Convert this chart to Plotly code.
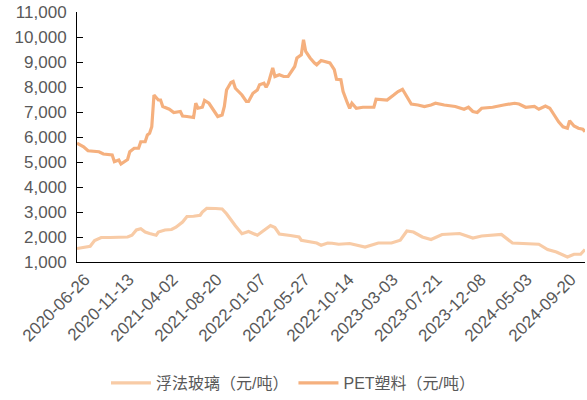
import plotly.graph_objects as go

# 浮法玻璃（元/吨） — weekly series
glass_dates = [
    "2020-06-26", "2020-07-17", "2020-08-07", "2020-08-21", "2020-09-11", "2020-10-09",
    "2020-11-06", "2020-12-04", "2020-12-18", "2021-01-01", "2021-01-15", "2021-01-29",
    "2021-02-12", "2021-03-05", "2021-03-12", "2021-04-02", "2021-04-23", "2021-05-07",
    "2021-05-28", "2021-06-11", "2021-07-02", "2021-07-23", "2021-07-30", "2021-08-13",
    "2021-09-10", "2021-10-01", "2021-10-15", "2021-10-29", "2021-11-12", "2021-12-03",
    "2021-12-17", "2021-12-24", "2022-01-21", "2022-02-04", "2022-02-18", "2022-03-04",
    "2022-03-18", "2022-04-01", "2022-05-06", "2022-06-03", "2022-06-10", "2022-07-29",
    "2022-08-12", "2022-09-02", "2022-09-16", "2022-10-07", "2022-11-11", "2022-12-30",
    "2023-02-10", "2023-03-24", "2023-04-21", "2023-05-12", "2023-06-02", "2023-06-30",
    "2023-07-28", "2023-09-01", "2023-10-27", "2023-12-08", "2024-01-05", "2024-03-08",
    "2024-04-12", "2024-05-31", "2024-07-05", "2024-08-02", "2024-08-30", "2024-10-04",
    "2024-10-25", "2024-11-15", "2024-11-29",
]
glass_values = [
    1540, 1580, 1630, 1860, 1980, 1980,
    1980, 2000, 2070, 2280, 2330, 2200,
    2140, 2070, 2200, 2280, 2300, 2390,
    2600, 2820, 2830, 2870, 3000, 3150,
    3140, 3120, 2930, 2670, 2450, 2130,
    2200, 2220, 2070, 2200, 2300, 2460,
    2380, 2120, 2060, 2000, 1870, 1760,
    1670, 1760, 1750, 1710, 1740, 1600,
    1760, 1760, 1870, 2240, 2200, 2000,
    1900, 2100, 2140, 1960, 2040, 2100,
    1760, 1740, 1710, 1500, 1400, 1200,
    1310, 1310, 1500,
]

# PET塑料（元/吨）
pet_dates = [
    "2020-06-26", "2020-07-17", "2020-07-31", "2020-09-04", "2020-09-18", "2020-10-16",
    "2020-10-23", "2020-11-06", "2020-11-13", "2020-12-04", "2020-12-11", "2020-12-25",
    "2021-01-08", "2021-01-15", "2021-01-29", "2021-02-05", "2021-02-12", "2021-02-19",
    "2021-02-26", "2021-03-12", "2021-03-19", "2021-03-26", "2021-04-16", "2021-04-30",
    "2021-05-21", "2021-05-28", "2021-06-11", "2021-07-02", "2021-07-09", "2021-07-16",
    "2021-07-30", "2021-08-06", "2021-08-20", "2021-09-03", "2021-09-17", "2021-10-01",
    "2021-10-08", "2021-10-15", "2021-10-29", "2021-11-05", "2021-11-12", "2021-12-03",
    "2021-12-17", "2021-12-24", "2022-01-07", "2022-01-21", "2022-01-28", "2022-02-11",
    "2022-02-18", "2022-02-25", "2022-03-11", "2022-03-18", "2022-04-01", "2022-04-15",
    "2022-04-29", "2022-05-20", "2022-05-27", "2022-06-10", "2022-06-17", "2022-06-24",
    "2022-07-08", "2022-07-22", "2022-07-29", "2022-08-12", "2022-09-02", "2022-09-09",
    "2022-09-23", "2022-09-30", "2022-10-14", "2022-10-21", "2022-11-04", "2022-11-11",
    "2022-11-18", "2022-12-02", "2022-12-23", "2023-01-27", "2023-02-03", "2023-02-24",
    "2023-03-10", "2023-03-31", "2023-04-14", "2023-04-28", "2023-05-05", "2023-05-19",
    "2023-05-26", "2023-06-16", "2023-07-07", "2023-07-28", "2023-08-11", "2023-09-08",
    "2023-10-13", "2023-11-10", "2023-11-24", "2023-12-08", "2023-12-22", "2024-01-05",
    "2024-02-09", "2024-03-15", "2024-04-19", "2024-05-03", "2024-05-24", "2024-06-21",
    "2024-07-05", "2024-07-26", "2024-08-09", "2024-08-23", "2024-09-06", "2024-09-20",
    "2024-10-04", "2024-10-11", "2024-10-25", "2024-11-08", "2024-11-22", "2024-11-29",
]
pet_values = [
    5750, 5610, 5450, 5410, 5320, 5280,
    5010, 5080, 4920, 5100, 5410, 5550,
    5550, 5810, 5810, 6080, 6150, 6410,
    7680, 7480, 7480, 7220, 7110, 6980,
    7020, 6840, 6820, 6780, 7350, 7150,
    7190, 7460, 7350, 7080, 6820, 6880,
    7220, 7880, 8180, 8220, 7950, 7680,
    7420, 7420, 7750, 7880, 8090, 8150,
    7990, 8150, 8760, 8420, 8490, 8420,
    8420, 8820, 9160, 9290, 9890, 9420,
    9160, 8960, 8890, 9060, 8980, 8960,
    8690, 8310, 8290, 7820, 7350, 7150,
    7350, 7150, 7190, 7190, 7510, 7480,
    7480, 7680, 7820, 7910, 7750, 7480,
    7320, 7280, 7220, 7280, 7350, 7280,
    7220, 7110, 7190, 7020, 6980, 7150,
    7190, 7280, 7350, 7320, 7190, 7220,
    7110, 7240, 7150, 6880, 6610, 6410,
    6350, 6650, 6440, 6350, 6310, 6210,
]

x_labels = [
    "2020-06-26", "2020-11-13", "2021-04-02", "2021-08-20", "2022-01-07", "2022-05-27",
    "2022-10-14", "2023-03-03", "2023-07-21", "2023-12-08", "2024-05-03", "2024-09-20",
]
x_ticks = x_labels[::2]
y_ticks = list(range(1000, 11001, 1000))

FONT = "Liberation Sans, Arial, Noto Sans CJK SC, sans-serif"
GRAY = "#595959"
x_range = [pet_dates[0], pet_dates[-1]]

fig = go.Figure()
fig.add_trace(go.Scatter(x=glass_dates, y=glass_values, mode="lines",
                         name="浮法玻璃（元/吨）",
                         line=dict(color="#F8CBA6", width=3.2)))
fig.add_trace(go.Scatter(x=pet_dates, y=pet_values, mode="lines",
                         name="PET塑料（元/吨）",
                         line=dict(color="#F5B07E", width=3.2)))

fig.update_layout(
    width=587, height=400,
    margin=dict(l=77, r=2, t=12, b=138),
    paper_bgcolor="white", plot_bgcolor="white",
    font=dict(family=FONT, size=16, color=GRAY),
    showlegend=True,
    legend=dict(orientation="h", xref="container", yref="container",
                x=0.5, xanchor="center", y=0.0425, yanchor="middle",
                font=dict(size=16, color=GRAY), itemwidth=40),
    xaxis=dict(
        type="date", range=x_range, automargin=False,
        tickmode="array", tickvals=x_labels, ticktext=x_labels,
        tickangle=-45, ticks="", showgrid=False, zeroline=False,
        showline=True, linecolor="black", linewidth=1,
        ticklabelshift=8,
        tickfont=dict(size=17, color=GRAY),
    ),
    xaxis2=dict(
        type="date", range=x_range, overlaying="x", anchor="y", side="bottom",
        automargin=False, tickmode="array", tickvals=x_ticks, showticklabels=False,
        ticks="inside", ticklen=6, tickcolor="black", tickwidth=1,
        showgrid=False, zeroline=False, showline=False,
    ),
    yaxis=dict(
        range=[1000, 11000], tickmode="array", tickvals=y_ticks, automargin=False,
        tickformat=",", ticks="inside", ticklen=6, tickcolor="black",
        showgrid=False, zeroline=False, showline=True, linecolor="black",
        linewidth=1, ticklabelstandoff=6, tickfont=dict(size=17, color=GRAY),
    ),
)

fig.write_html("out.html", config={"displayModeBar": False},
               post_script="document.body.style.margin='0';document.body.style.padding='0';")
